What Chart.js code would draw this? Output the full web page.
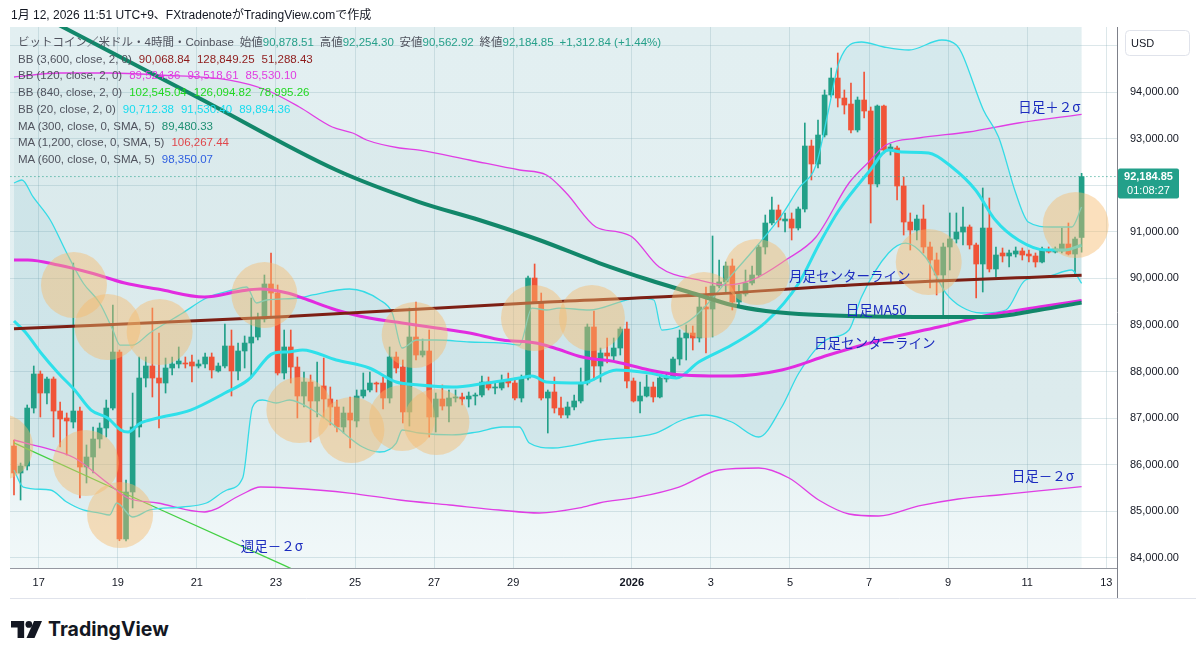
<!DOCTYPE html>
<html lang="ja">
<head>
<meta charset="utf-8">
<title>BTCUSD 4h</title>
<script src="https://cdn.jsdelivr.net/npm/chart.js@4.4.1/dist/chart.umd.min.js"></script>
<style>
  html, body { margin: 0; padding: 0; background: #fff; }
  body { width: 1200px; height: 656px; position: relative; overflow: hidden;
         font-family: "Liberation Sans", "Noto Sans CJK JP", sans-serif; }
  #chart { position: absolute; left: 0; top: 0; }
  #hdr { position: absolute; left: 11px; top: 7px; font-size: 12px; line-height: 16px; color: #131722; white-space: nowrap; }
  #lgd { position: absolute; left: 18px; top: 34px; font-size: 11.5px; line-height: 16.7px; color: #50535e; white-space: nowrap; }
  #lgd .v { margin-left: 7px; }
  #logo { position: absolute; left: 11px; top: 617px; display: flex; align-items: center; gap: 6px;
          font-family: Inter, "Noto Sans", sans-serif; font-weight: 700; font-size: 19.5px; color: #131722; }
</style>
</head>
<body>
<canvas id="chart" width="1200" height="600"></canvas>
<div id="hdr">1月 12, 2026 11:51 UTC+9、FXtradenoteがTradingView.comで作成</div>
<div id="lgd">
  <div>ビットコイン／米ドル・4時間・Coinbase&ensp;始値<span style="color:#26a08a">90,878.51</span>&ensp;高値<span style="color:#26a08a">92,254.30</span>&ensp;安値<span style="color:#26a08a">90,562.92</span>&ensp;終値<span style="color:#26a08a">92,184.85</span>&ensp;<span style="color:#26a08a">+1,312.84 (+1.44%)</span></div>
  <div>BB (3,600, close, 2, 0)<span class="v" style="color:#8e1b1b">90,068.84</span><span class="v" style="color:#8e1b1b">128,849.25</span><span class="v" style="color:#8e1b1b">51,288.43</span></div>
  <div>BB (120, close, 2, 0)<span class="v" style="color:#e03ce0">89,524.36</span><span class="v" style="color:#e03ce0">93,518.61</span><span class="v" style="color:#e03ce0">85,530.10</span></div>
  <div>BB (840, close, 2, 0)<span class="v" style="color:#22d822">102,545.04</span><span class="v" style="color:#22d822">126,094.82</span><span class="v" style="color:#22d822">78,995.26</span></div>
  <div>BB (20, close, 2, 0)<span class="v" style="color:#18dcef">90,712.38</span><span class="v" style="color:#18dcef">91,530.40</span><span class="v" style="color:#18dcef">89,894.36</span></div>
  <div>MA (300, close, 0, SMA, 5)<span class="v" style="color:#1e8f72">89,480.33</span></div>
  <div>MA (1,200, close, 0, SMA, 5)<span class="v" style="color:#e0474c">106,267.44</span></div>
  <div>MA (600, close, 0, SMA, 5)<span class="v" style="color:#2f5fe0">98,350.07</span></div>
</div>
<div id="logo"><svg width="31" height="17" viewBox="0 0 33 18"><path d="M0 0H14V18H7V7H0Z" fill="#131722"/><circle cx="19" cy="3.6" r="3.6" fill="#131722"/><path d="M24.5 0H33L25 18H16.5Z" fill="#131722"/></svg>TradingView</div>
<script>
// 4h candles, Dec 16 09:00 JST .. Jan 12 09:00 JST (163 bars)
const opens = [
  86403, 85824, 85974, 87218, 87948, 87540, 87841, 87154, 87004, 86918,
  87154, 85952, 86167, 86553, 86789, 87218, 88420, 84408, 85416, 86811,
  87862, 88120, 87862, 87755, 88077, 88163, 88184, 88206, 88120, 88163,
  88313, 88013, 88120, 88549, 88013, 88442, 88613, 88742, 89128, 89880,
  89686, 87970, 88528, 88098, 87476, 87776, 87369, 87691, 87412, 87240,
  86811, 87111, 86940, 87476, 87605, 87755, 87755, 87433, 88313, 88098,
  87133, 88742, 88356, 88442, 87025, 87412, 87261, 87433, 87455, 87412,
  87476, 87497, 87776, 87648, 87648, 87798, 87755, 87433, 87862, 90008,
  89493, 87433, 87562, 87218, 87068, 87240, 87369, 87755, 88957, 88120,
  88399, 88334, 88506, 88914, 87798, 87369, 87476, 87669, 87455, 87841,
  87884, 88270, 88721, 88828, 88721, 89386, 89343, 89837, 89923, 90266,
  89493, 89665, 89901, 90073, 90674, 91189, 91468, 91232, 91274, 91081,
  91489, 92841, 92455, 93077, 93936, 94300, 93871, 93742, 93185, 93828,
  93592, 92026, 93699, 92755, 92798, 91983, 91210, 91038, 91274, 90674,
  90395, 90073, 90674, 90845, 90995, 91103, 90717, 90309, 91081, 90202,
  90545, 90481, 90523, 90588, 90523, 90481, 90352, 90609, 90566, 90588,
  90738, 90523, 90878.51
];
const highs = [
  86532, 86038, 87283, 88120, 88013, 87884, 87884, 87347, 87111, 90330,
  87240, 86425, 86811, 86897, 87390, 89429, 88463, 85674, 87540, 88313,
  88313, 89364, 88828, 88291, 88313, 88528, 88313, 88356, 88249, 88399,
  88399, 88184, 89021, 88892, 88613, 88764, 89579, 89257, 90073, 90545,
  89858, 88892, 88892, 88313, 87991, 87927, 88206, 88291, 87669, 87390,
  87240, 87455, 87605, 87970, 87991, 87776, 87884, 88528, 88420, 88249,
  89364, 89493, 88699, 88892, 87540, 87712, 87605, 87605, 87540, 87562,
  87540, 87905, 87884, 87776, 87927, 87970, 87862, 87927, 90051, 90309,
  89686, 87605, 87884, 87455, 87347, 87497, 88077, 89021, 89300, 88506,
  88721, 88721, 88957, 89064, 87862, 87776, 87927, 87776, 87927, 87970,
  88313, 88892, 88999, 88978, 89644, 89815, 90910, 90395, 90352, 90416,
  89858, 90180, 90266, 90717, 91360, 91747, 91575, 91404, 91404, 91532,
  93335, 92970, 93399, 94043, 94515, 94837, 94043, 94193, 93893, 94429,
  93678, 93721, 93721, 92884, 92840, 92176, 91404, 91360, 91575, 90781,
  90545, 90759, 91404, 91404, 91532, 91146, 90759, 91940, 91725, 90674,
  90652, 90609, 90674, 90652, 90609, 90545, 90674, 90674, 90674, 91081,
  91189, 90888, 92254.30
];
const lows = [
  85352, 85244, 85888, 87111, 87025, 87304, 86596, 86382, 86210, 86789,
  85287, 85609, 85824, 86360, 86596, 87175, 84370, 84365, 85073, 86596,
  87669, 87455, 86789, 87540, 87927, 88077, 88077, 87776, 88077, 88077,
  87862, 87990, 88077, 87476, 87819, 88077, 87862, 88678, 89064, 89150,
  87927, 87841, 87755, 87004, 87240, 86489, 87025, 87004, 86854, 86703,
  86682, 86360, 86811, 87433, 87562, 87562, 87197, 87326, 87970, 86897,
  86832, 88249, 88313, 86596, 86703, 87175, 86918, 87347, 87283, 87240,
  87283, 87455, 87605, 87519, 87605, 87669, 87390, 87347, 87819, 89472,
  87390, 86682, 87111, 87004, 87004, 87175, 87326, 87712, 87819, 87776,
  88184, 88249, 88356, 87648, 87347, 87111, 87455, 87347, 87433, 87776,
  87862, 88141, 88249, 88463, 88635, 88399, 88742, 89794, 89686, 89322,
  89407, 89622, 89858, 90030, 90523, 91146, 91103, 90995, 90824, 91038,
  91425, 92112, 92369, 93034, 93893, 93678, 93528, 93120, 93142, 93442,
  91189, 91962, 92691, 92648, 91682, 90931, 90609, 90824, 90545, 89794,
  89644, 89171, 90180, 90759, 90717, 90631, 89579, 89708, 90137, 90030,
  90352, 90244, 90459, 90395, 90352, 90244, 90330, 90545, 90545, 90545,
  90502, 90073, 90562.92
];
const closes = [
  85824, 85974, 87218, 87948, 87540, 87841, 87154, 86983, 86940, 87154,
  85952, 86167, 86553, 86789, 87218, 88420, 84408, 85416, 86811, 87862,
  88120, 87862, 87755, 88077, 88163, 88227, 88163, 88120, 88163, 88313,
  88034, 88120, 88549, 88013, 88442, 88613, 88742, 89128, 89880, 89686,
  87970, 88528, 88098, 87476, 87776, 87369, 87669, 87412, 87240, 86811,
  87111, 86961, 87476, 87605, 87755, 87733, 87433, 88313, 88077, 87133,
  88742, 88356, 88442, 87025, 87412, 87261, 87433, 87455, 87412, 87476,
  87497, 87776, 87648, 87669, 87798, 87755, 87433, 87862, 90008, 89493,
  87433, 87562, 87218, 87068, 87240, 87369, 87755, 88957, 88120, 88399,
  88334, 88506, 88914, 87798, 87369, 87476, 87669, 87455, 87862, 87884,
  88270, 88721, 88828, 88721, 89386, 89343, 89837, 89923, 90266, 89493,
  89665, 89901, 90073, 90674, 91189, 91468, 91253, 91274, 91081, 91489,
  92841, 92455, 93077, 93936, 94300, 93871, 93721, 93185, 93828, 93592,
  92026, 93699, 92755, 92820, 91983, 91210, 91038, 91274, 90674, 90395,
  90073, 90674, 90845, 90995, 91103, 90717, 90309, 91081, 90202, 90502,
  90481, 90545, 90588, 90502, 90481, 90352, 90631, 90566, 90631, 90738,
  90523, 90845, 92184.85
];

// indicator lines (position = candle index, value = price)
const ma300Idx = [0, 7.4, 28.2, 48.9, 61.5, 70.6, 79.7, 88.8, 96.4, 103.9, 108.9, 114.1, 119.1, 126.7, 140.3, 147.9, 155.5, 162];
const ma300Val = [95944, 95395, 93861, 92326, 91639, 91253, 90824, 90330, 89966, 89644, 89429, 89300, 89236, 89193, 89171, 89171, 89322, 89480];

const monthMidIdx = [0, 40, 81, 104, 127, 162];
const monthMidVal = [88920, 89172, 89493, 89644, 89858, 90069];

const bb120MidIdx = [0, 2.1, 6.7, 11.7, 16.8, 21.8, 28.9, 34.4, 37.4, 41.5, 43.8, 48.9, 53.9, 58.9, 64.1, 69.1, 74.1, 79.2, 82, 86.2, 91.4, 96.4, 101.4, 108.9, 116.5, 123.6, 132.7, 140.3, 147.9, 155.5, 162];
const bb120MidVal = [90395, 90395, 90288, 90116, 89901, 89772, 89601, 89729, 89772, 89686, 89579, 89322, 89150, 89043, 88935, 88828, 88678, 88613, 88506, 88313, 88206, 88034, 87927, 87905, 88034, 88356, 88721, 88957, 89214, 89386, 89524];

const bb120UpIdx = [0, 7, 14.5, 22.1, 32.7, 38.3, 43.3, 48.3, 51.4, 53.5, 58.5, 61.5, 69.1, 76.7, 80.8, 83.8, 88.3, 91.8, 93.8, 97.9, 103.9, 108, 112, 117.1, 121.7, 126.7, 129.7, 132.3, 137.3, 144.8, 152.4, 162];
const bb120UpVal = [94322, 94408, 94408, 94365, 94257, 94043, 93678, 93249, 93120, 92970, 92798, 92755, 92541, 92326, 92219, 91832, 91103, 90995, 90888, 90244, 89966, 89858, 89966, 90395, 90888, 92047, 92498, 92862, 93013, 93142, 93335, 93519];

const bb120LoIdx = [0, 4.1, 9.2, 14.2, 17.3, 21.8, 28.9, 34.4, 37.4, 41.5, 50.9, 58.5, 66.1, 73.6, 79.7, 85.8, 88.8, 94.8, 100.9, 107, 113, 117.6, 122.1, 126.7, 131.2, 137.3, 143.3, 149.4, 155.5, 162];
const bb120LoVal = [86532, 86382, 86146, 85609, 85287, 85180, 84987, 85352, 85523, 85502, 85394, 85244, 85137, 85030, 84965, 85073, 85180, 85309, 85523, 85888, 85931, 85716, 85244, 84944, 84901, 85116, 85266, 85352, 85438, 85530];

const bb20MidIdx = [0, 1.7, 4.1, 6.7, 9.2, 11.7, 14.2, 16.2, 17.3, 19.2, 21.8, 26.8, 32, 35.5, 39.5, 41.5, 43.8, 48.9, 53.9, 58, 61.5, 66.5, 71.7, 76.7, 78.6, 80.8, 86.2, 91.4, 96.4, 100.5, 103.9, 108.9, 114.1, 119.1, 122.1, 125.2, 129.7, 132.7, 134.7, 138.8, 142.3, 145.9, 148.9, 152.4, 156.5, 159.5, 162];
const bb20MidVal = [89085, 88850, 88399, 87970, 87605, 87175, 87004, 86747, 86703, 86897, 87004, 87175, 87540, 87819, 88399, 88420, 88463, 88249, 88077, 87776, 87712, 87669, 87755, 87862, 87905, 87776, 87755, 88034, 87970, 87862, 88206, 88571, 89064, 89901, 90717, 91468, 92283, 92755, 92712, 92691, 92390, 91897, 91253, 90824, 90609, 90609, 90712];

const bb20UpIdx = [0, 1.2, 2.9, 5.5, 8, 10.5, 13, 15, 16.1, 18, 20.6, 25.6, 29.2, 33.2, 35.3, 36.8, 38.3, 43.3, 45.3, 50.9, 55.5, 57.4, 58.9, 61.1, 64.1, 69.1, 74.1, 76.7, 78.6, 80.8, 82.7, 87.3, 92.9, 94.8, 97.1, 98.3, 101.4, 103.9, 108.9, 112.6, 116.5, 119.1, 121.7, 123.6, 125.2, 128.6, 132, 135.8, 140.8, 143, 143.8, 147.1, 149.4, 152, 153.9, 157.4, 160.5, 162];
const bb20UpVal = [92047, 92112, 91747, 91253, 90545, 89901, 89472, 88892, 88570, 88570, 88828, 89257, 89579, 89751, 89815, 89472, 89536, 89579, 89644, 89772, 89536, 89257, 88506, 88678, 88678, 88635, 88613, 88570, 89364, 89322, 89364, 89322, 89536, 89579, 89536, 88892, 88999, 89257, 90073, 90674, 91360, 91940, 92433, 93614, 94644, 95073, 94966, 94901, 95116, 95008, 94837, 93614, 93034, 91832, 91210, 91103, 91103, 91532];

const bb20LoIdx = [0, 1.4, 5.5, 8, 10.5, 13, 14.5, 15.6, 18, 20.6, 25.6, 29.2, 32.3, 34.7, 36.2, 37.7, 39.8, 41.8, 45.3, 48.9, 52.9, 55.5, 58, 58.9, 61.5, 66.5, 70.2, 74.1, 76.7, 78.2, 81.7, 88.8, 97.4, 101.4, 105, 108.9, 113, 116.5, 119.1, 123.2, 126.7, 128.6, 132.7, 135.3, 138.3, 141.4, 143.8, 146.8, 150.5, 153.5, 156.5, 160.5, 162];
const bb20LoVal = [85888, 85523, 85459, 85201, 85030, 84965, 84922, 85180, 84879, 85030, 85094, 85180, 85459, 85716, 87240, 87390, 87326, 87390, 87175, 86811, 86382, 86274, 86467, 86747, 86682, 86640, 86703, 86811, 86811, 86467, 86360, 86532, 86682, 86961, 87068, 86918, 86596, 87240, 87970, 88678, 88892, 89601, 90545, 90759, 90459, 89686, 89386, 89257, 89322, 89966, 90030, 90180, 89894];

const weekLoIdx = [0, 20, 41, 55];
const weekLoVal = [86470, 85180, 83840, 82940];

// orange marker circles
const circIdx = [9.1, 14.2, 22.1, 38.0, -2.1, 10.9, 16.1, 43.3, 51.2, 60.8, 58.9, 64.1, 78.9, 87.7, 104.7, 112.7, 138.8, 161.1];
const circVal = [89858, 88957, 88850, 89644, 86382, 86038, 84922, 87176, 86747, 88785, 87004, 86918, 89150, 89150, 89429, 90137, 90352, 91146];

// text notes
const noteText = ['日足＋２σ', '月足センターライン', '日足MA50', '日足センターライン', '日足－２σ', '週足－２σ'];
const noteIdx = [152.4, 117.6, 126.2, 121.4, 151.4, 34.4];
const noteVal = [93678, 90051, 89322, 88614, 85759, 84257];

// axes
const tickDays = [0, 2, 4, 6, 8, 10, 12, 15, 17, 19, 21, 23, 25, 27];
const tickLabels = ['17', '19', '21', '23', '25', '27', '29', '2026', '3', '5', '7', '9', '11', '13'];
const priceTicks = [84000, 85000, 86000, 87000, 88000, 89000, 90000, 91000, 92000, 93000, 94000, 95000];
const countdown = '01:08:27';

const N = closes.length;
const UP = '#22a088', DOWN = '#f05438';
const tOf = i => -0.625 + i / 6;   // days from Dec 17 00:00
const pts = (idx, val) => idx.map((v, k) => ({x: tOf(v), y: val[k]}));
const fmt = v => v.toLocaleString('en-US', {minimumFractionDigits: 2, maximumFractionDigits: 2});
const FONT = '"Liberation Sans", "Noto Sans CJK JP", sans-serif';

function lineSet(idx, val, color, width, order, extra) {
  return Object.assign({
    type: 'line', data: pts(idx, val), borderColor: color, borderWidth: width,
    pointRadius: 0, fill: false, cubicInterpolationMode: 'monotone', order: order
  }, extra || {});
}

const candleColors = closes.map((c, i) => c >= opens[i] ? UP : DOWN);

const datasets = [
  { // 0 wicks
    data: lows.map((l, i) => ({x: tOf(i), y: [l, highs[i]]})),
    backgroundColor: candleColors, barThickness: 1, grouped: false, order: 9, borderWidth: 0
  },
  { // 1 bodies
    data: opens.map((o, i) => ({x: tOf(i), y: [o, closes[i]]})),
    backgroundColor: candleColors, barThickness: 5, grouped: false, order: 8, borderWidth: 0, minBarLength: 1
  },
  lineSet(bb20UpIdx, bb20UpVal, '#35dbe6', 1.3, 6, {fill: {target: 3, above: 'rgba(40,160,180,0.07)', below: 'rgba(40,160,180,0.07)'}}), // 2
  lineSet(bb20LoIdx, bb20LoVal, '#35dbe6', 1.3, 6),   // 3
  lineSet(bb120UpIdx, bb120UpVal, '#e03ee4', 1.3, 6, {fill: {target: 5, above: 'rgba(30,120,140,0.04)', below: 'rgba(30,120,140,0.04)'}}), // 4
  lineSet(bb120LoIdx, bb120LoVal, '#e03ee4', 1.3, 6), // 5
  lineSet(weekLoIdx, weekLoVal, '#43d043', 1.3, 6, {cubicInterpolationMode: 'default', tension: 0}), // 6
  lineSet(bb20MidIdx, bb20MidVal, '#2ee0ea', 3, 4),   // 7
  lineSet(bb120MidIdx, bb120MidVal, '#e22be0', 3, 3), // 8
  lineSet(monthMidIdx, monthMidVal, '#7d1f14', 3, 2), // 9
  lineSet(ma300Idx, ma300Val, '#12876a', 4, 1),       // 10
  { // 11 last price line
    type: 'line', data: [{x: tOf(-6), y: closes[N - 1]}, {x: tOf(N + 30), y: closes[N - 1]}],
    borderColor: '#22a08a', borderWidth: 1, borderDash: [1, 3], pointRadius: 0, order: 5
  },
  { // 12 marker circles
    type: 'line', data: pts(circIdx, circVal), showLine: false, pointRadius: 33,
    pointBackgroundColor: 'rgba(246,186,108,0.45)', pointBorderWidth: 0, order: 0
  }
];

const bgPlugin = {
  id: 'bg',
  beforeDraw(chart) {
    const {ctx, chartArea: a, scales: {x}} = chart;
    ctx.save();
    ctx.fillStyle = '#fff';
    ctx.fillRect(0, 0, chart.width, chart.height);
    const xr = x.getPixelForValue(tOf(N - 1));
    const g = ctx.createLinearGradient(0, a.top, 0, a.bottom);
    g.addColorStop(0, '#e2eff1');
    g.addColorStop(0.7, '#e4f0f2');
    g.addColorStop(1, '#f1f8f9');
    ctx.fillStyle = g;
    ctx.fillRect(a.left, a.top, xr - a.left, a.bottom - a.top);
    ctx.restore();
  }
};

const notesPlugin = {
  id: 'notes',
  afterDatasetsDraw(chart) {
    const {ctx, scales: {x, y}} = chart;
    ctx.save();
    ctx.font = '13.5px "Noto Sans CJK JP", sans-serif';
    ctx.fillStyle = '#1b2bbf';
    ctx.textBaseline = 'middle';
    noteText.forEach((s, k) => {
      ctx.fillText(s, x.getPixelForValue(tOf(noteIdx[k])), y.getPixelForValue(noteVal[k]));
    });
    ctx.restore();
  },
  afterDraw(chart) {
    const {ctx, chartArea: a, scales: {y}} = chart;
    ctx.save();
    // price scale separator + bottom frame
    ctx.strokeStyle = '#7d8089';
    ctx.lineWidth = 1;
    ctx.beginPath();
    ctx.moveTo(a.right + 0.5, a.top);
    ctx.lineTo(a.right + 0.5, 598);
    ctx.stroke();
    ctx.strokeStyle = '#e0e3eb';
    ctx.beginPath();
    ctx.moveTo(a.left, 598.5);
    ctx.lineTo(1196, 598.5);
    ctx.stroke();
    // USD box
    ctx.fillStyle = '#fff';
    ctx.beginPath();
    ctx.roundRect(1125.5, 30.5, 64, 25, 4);
    ctx.fill();
    ctx.stroke();
    ctx.fillStyle = '#131722';
    ctx.font = '11px ' + FONT;
    ctx.textBaseline = 'middle';
    ctx.fillText('USD', 1131, 43.5);
    // last price tag
    const yy = y.getPixelForValue(closes[N - 1]);
    ctx.fillStyle = '#22a08a';
    ctx.beginPath();
    ctx.roundRect(1118, yy - 8, 61, 30, 2);
    ctx.fill();
    ctx.fillStyle = '#fff';
    ctx.textAlign = 'center';
    ctx.font = 'bold 11px ' + FONT;
    ctx.fillText(fmt(closes[N - 1]), 1148.5, yy + 0.5);
    ctx.font = '11px ' + FONT;
    ctx.fillText(countdown, 1148.5, yy + 14.5);
    ctx.restore();
  }
};

const gridColor = 'rgba(140,175,185,0.3)';

new Chart(document.getElementById('chart'), {
  type: 'bar',
  data: {datasets},
  options: {
    responsive: false,
    animation: false,
    events: [],
    layout: {autoPadding: false, padding: {left: 10, top: 27, right: 0, bottom: 4}},
    plugins: {
      legend: {display: false},
      tooltip: {enabled: false},
      filler: {drawTime: 'beforeDatasetsDraw'}
    },
    scales: {
      x: {
        type: 'linear', min: -0.726, max: 27.27, offset: false,
        grid: {color: gridColor, drawTicks: false, offset: false},
        border: {display: true, color: '#9598a1'},
        afterBuildTicks: s => { s.ticks = tickDays.map(v => ({value: v})); },
        afterFit: s => { s.height = 28; s.paddingLeft = 0; s.paddingRight = 0; },
        ticks: {
          padding: 8, autoSkip: false, maxRotation: 0, color: '#131722',
          font: c => ({family: FONT, size: 11, weight: c.tick && c.tick.label === '2026' ? 'bold' : 'normal'}),
          callback: (v, i) => tickLabels[i]
        }
      },
      y: {
        type: 'linear', position: 'right', min: 83785, max: 95395,
        grid: {color: gridColor, drawTicks: false},
        border: {display: false},
        afterBuildTicks: s => { s.ticks = priceTicks.map(v => ({value: v})); },
        afterFit: s => { s.width = 83; s.paddingTop = 0; s.paddingBottom = 0; },
        ticks: {
          padding: 13, color: '#131722', font: {family: FONT, size: 11},
          callback: v => v > 94500 ? '' : fmt(v)
        }
      }
    }
  },
  plugins: [bgPlugin, notesPlugin]
});
</script>
</body>
</html>
